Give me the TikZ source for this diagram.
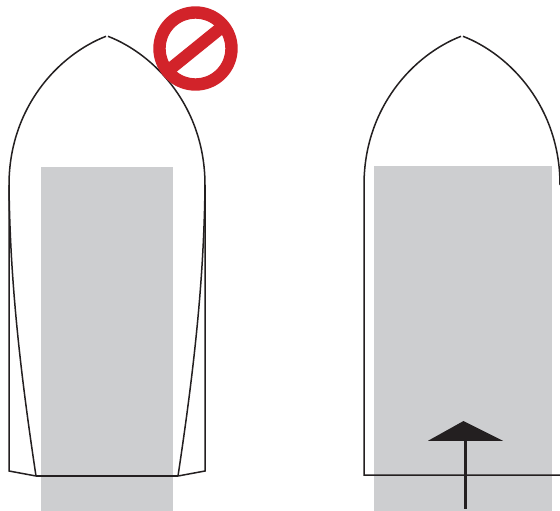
\documentclass[tikz,border=0pt]{standalone}
\definecolor{deck}{HTML}{CDCED0}
\definecolor{ink}{HTML}{231F20}
\definecolor{nored}{HTML}{D2232A}
\tikzset{hull/.style={draw=ink,line width=1.5pt,line join=miter},
 area/.style={fill=deck,draw=none}}
\begin{document}
\begin{tikzpicture}[x=1pt,y=-1pt]
\useasboundingbox (0,0) rectangle (560,511);
\clip (0,0) rectangle (560,511);
\fill[white] (0,0) rectangle (560,511);
% left boat
\path[area] (41,167) rectangle (173,511);
\draw[hull] (106,36.3) .. controls (58,55) and (9,108) .. (9,185) -- (9,471) -- (36,476);
\draw[hull] (108,36.3) .. controls (156,55) and (205,108) .. (205,185) -- (205,471) -- (178,476);
\draw[hull] (9,185) .. controls (10,280) and (20,370) .. (36,476);
\draw[hull] (205,185) .. controls (204,280) and (194,370) .. (178,476);
\draw[draw=ink,line width=2pt] (36,476) -- (178,476);
% prohibition sign
\draw[nored,line width=12.4pt] (195.5,48.5) circle (36);
\draw[nored,line width=12.4pt] (195.5,48.5) ++(141:36) -- ++(-39:72);
% right boat
\path[area] (374,166) rectangle (552,511);
\draw[hull] (461,36.3) .. controls (413,55) and (364,108) .. (364,185) -- (364,475) -- (560,475);
\draw[hull] (463,36.3) .. controls (511,55) and (560,108) .. (560,185);
\fill[ink] (463.5,421) -- (503,440.8) -- (428,440.8) -- cycle;
\draw[ink,line width=2.2pt] (465.5,440) -- (465.5,508.5);
\end{tikzpicture}
\end{document}
